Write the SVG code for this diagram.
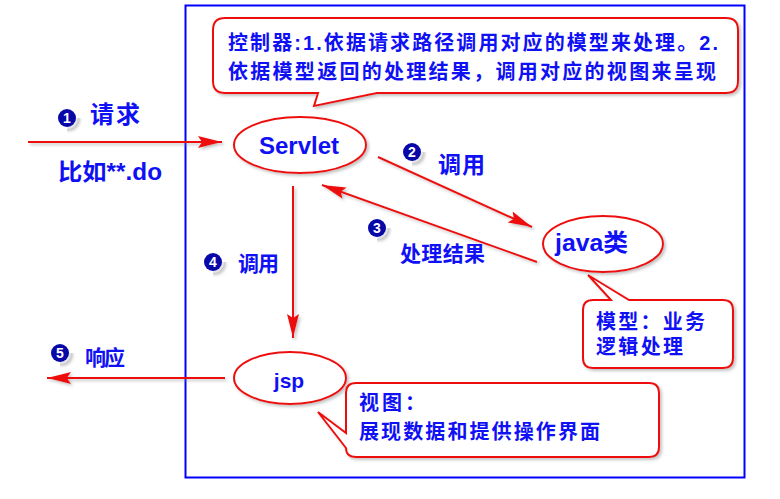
<svg xmlns="http://www.w3.org/2000/svg" width="780" height="499" viewBox="0 0 780 499">
<style>
.t{font-family:"Liberation Sans","Noto Sans CJK SC",sans-serif;font-weight:bold;fill:#1010f5}
.b{font-size:20px}
.node{font-family:"Liberation Sans","Noto Sans CJK SC",sans-serif;font-weight:bold;fill:#1010f5}
.shape{fill:#ffffff;stroke:#ee1111;stroke-width:2;filter:url(#sh)}
.edge{stroke:#ee1111;stroke-width:2;fill:none;filter:url(#sh)}
.num{font-family:"Liberation Sans",sans-serif;font-weight:bold;font-size:14px;fill:#ffffff;text-anchor:middle}
</style>
<defs>
<filter id="sh" filterUnits="userSpaceOnUse" x="0" y="0" width="780" height="499">
<feDropShadow dx="2" dy="2" stdDeviation="1.5" flood-color="#888888" flood-opacity="0.5"/>
</filter>
<marker id="ah" markerUnits="userSpaceOnUse" markerWidth="26" markerHeight="14" refX="24" refY="7" orient="auto">
<path d="M0,1 L24,7 L0,13 L4,7 Z" fill="#ee1111"/>
</marker>
<g id="badge">
<circle r="11" fill="#e4e4ea" filter="url(#sh)"/>
<circle r="9" fill="#0808a8"/>
</g>
</defs>
<rect x="0" y="0" width="780" height="499" fill="#ffffff"/>
<rect id="frame" x="185.5" y="5.5" width="559" height="472" fill="none" stroke="#0000ff" stroke-width="2"/>

<g id="connectors">
<line class="edge" x1="28" y1="142" x2="222" y2="142" marker-end="url(#ah)"/>
<line class="edge" x1="378" y1="157" x2="532" y2="227" marker-end="url(#ah)"/>
<line class="edge" x1="537" y1="262" x2="322" y2="185" marker-end="url(#ah)"/>
<line class="edge" x1="293" y1="186" x2="293" y2="338" marker-end="url(#ah)"/>
<line class="edge" x1="225" y1="378" x2="47" y2="378" marker-end="url(#ah)"/>
</g>

<g id="controller-note">
<path class="shape" d="M225,18 H726 Q738,18 738,30 V81 Q738,93 726,93 H377 L314,106 L318,93 H225 Q213,93 213,81 V30 Q213,18 225,18 Z"/>
<text class="t b" x="228" y="50" textLength="490" lengthAdjust="spacing">控制器:1.依据请求路径调用对应的模型来处理。2.</text>
<text class="t b" x="228" y="79" textLength="488" lengthAdjust="spacing">依据模型返回的处理结果，调用对应的视图来呈现</text>
</g>

<g id="servlet">
<ellipse class="shape" cx="300" cy="145" rx="66" ry="28"/>
<text class="node" x="299" y="154" font-size="24" text-anchor="middle">Servlet</text>
</g>

<g id="java">
<ellipse class="shape" cx="603" cy="244" rx="60" ry="28"/>
<text class="node" x="555" y="251" font-size="24" textLength="73" lengthAdjust="spacingAndGlyphs">java类</text>
</g>

<g id="jsp">
<ellipse class="shape" cx="290" cy="378" rx="56" ry="26"/>
<text class="node" x="289" y="388" font-size="21" text-anchor="middle">jsp</text>
</g>

<g id="model-note">
<path class="shape" d="M593,300 H611 L588,275 L629,300 H723 Q733,300 733,310 V358 Q733,368 723,368 H593 Q583,368 583,358 V310 Q583,300 593,300 Z"/>
<text class="t b" x="596" y="329" textLength="109" lengthAdjust="spacing">模型：业务</text>
<text class="t b" x="596" y="354" textLength="87" lengthAdjust="spacing">逻辑处理</text>
</g>

<g id="view-note">
<path class="shape" d="M356,383 H649 Q659,383 659,393 V447 Q659,457 649,457 H356 Q346,457 346,448 L318,412 L346,433 V393 Q346,383 356,383 Z"/>
<text class="t b" x="359" y="410" textLength="66" lengthAdjust="spacing">视图：</text>
<text class="t b" x="359" y="439" textLength="241" lengthAdjust="spacing">展现数据和提供操作界面</text>
</g>

<g id="label1">
<use href="#badge" x="67" y="118"/>
<text class="num" x="67" y="123">1</text>
<text class="t" x="90" y="123" font-size="24" textLength="50" lengthAdjust="spacing">请求</text>
<text class="t" x="58" y="180" font-size="23" textLength="104" lengthAdjust="spacingAndGlyphs">比如**.do</text>
</g>
<g id="label2">
<use href="#badge" x="412" y="152"/>
<text class="num" x="412" y="157">2</text>
<text class="t" x="438" y="173" font-size="23" textLength="47" lengthAdjust="spacing">调用</text>
</g>
<g id="label3">
<use href="#badge" x="377" y="228"/>
<text class="num" x="377" y="233">3</text>
<text class="t" x="400" y="261" font-size="21" textLength="85" lengthAdjust="spacing">处理结果</text>
</g>
<g id="label4">
<use href="#badge" x="213" y="262"/>
<text class="num" x="213" y="267">4</text>
<text class="t" x="238" y="271" font-size="21" textLength="41" lengthAdjust="spacing">调用</text>
</g>
<g id="label5">
<use href="#badge" x="60" y="353"/>
<text class="num" x="60" y="358">5</text>
<text class="t" x="85" y="365" font-size="21" textLength="40" lengthAdjust="spacing">响应</text>
</g>
</svg>
